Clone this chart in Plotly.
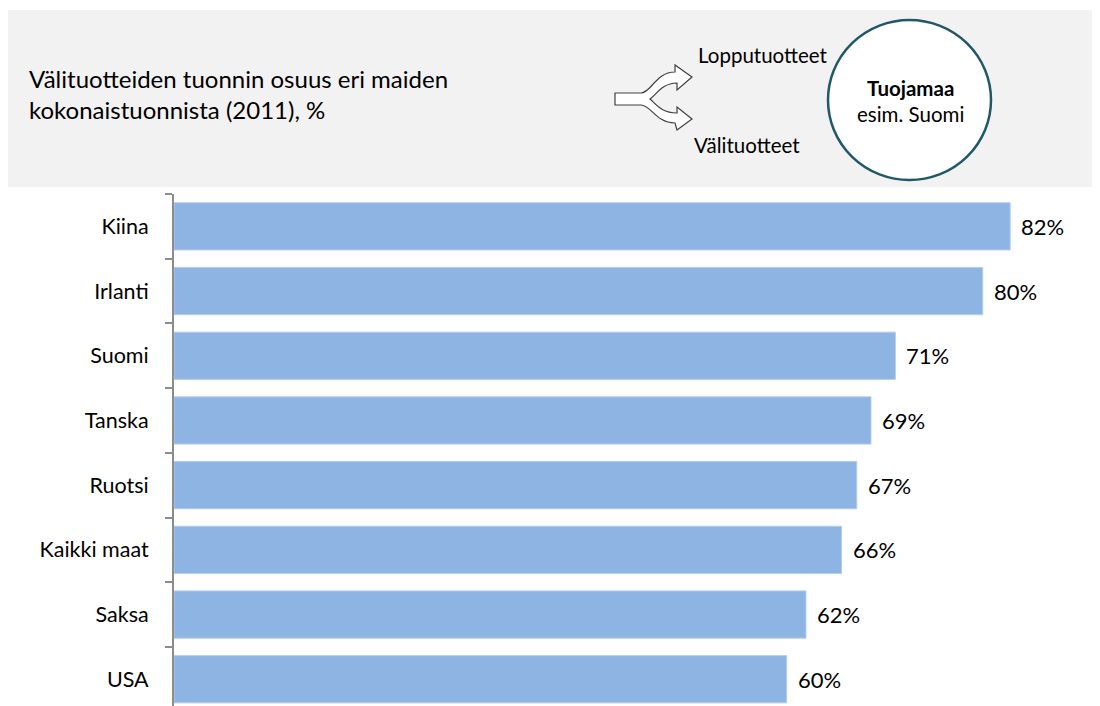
import plotly.graph_objects as go

# Data
countries = ["Kiina", "Irlanti", "Suomi", "Tanska", "Ruotsi", "Kaikki maat", "Saksa", "USA"]
shares = [82.3, 79.6, 71.0, 68.6, 67.2, 65.7, 62.2, 60.3]
title_lines = ["Välituotteiden tuonnin osuus eri maiden", "kokonaistuonnista (2011), %"]

OFF = 8  # page body margin
W, H = 1100 - OFF, 706 - OFF
FONT = "Lato"
BAR = "#8EB4E3"

def px(x):
    return (x - OFF) / W

def py(y):
    return 1 - (y - OFF) / H

# bottom-up order for category axis
cats = countries[::-1]
vals = shares[::-1]
labels = [f"{round(v)}%" for v in vals]

fig = go.Figure()
fig.add_trace(go.Bar(
    y=cats, x=vals, orientation="h",
    marker=dict(color=BAR, line=dict(color="#B4CCEC", width=1)),
    width=0.73,
    hoverinfo="skip",
))

x0 = 174
plot_top = 194
PX_PER_PCT = 10.16
CAT_PX = 64.7
fig.update_layout(
    width=W, height=H,
    margin=dict(l=0, r=0, t=0, b=0),
    paper_bgcolor="white", plot_bgcolor="white",
    showlegend=False,
    font=dict(family=FONT, color="#000000"),
    xaxis=dict(domain=[px(x0), 1], range=[0, (1100 - x0) / PX_PER_PCT],
               showgrid=False, zeroline=False, showline=False,
               showticklabels=False, ticks="", fixedrange=True),
    yaxis=dict(domain=[0, py(plot_top)], type="category",
               categoryorder="array", categoryarray=cats,
               range=[7.5 - (706 - plot_top) / CAT_PX, 7.5],
               showgrid=False, zeroline=False,
               showline=True, linecolor="#8C8C8C", linewidth=2,
               ticks="outside", tickson="boundaries", ticklen=7,
               tickcolor="#8C8C8C", tickwidth=1.5,
               tickfont=dict(size=21.5, color="#000000", family=FONT),
               ticklabelstandoff=19, fixedrange=True),
)

shapes = []
# header background
shapes.append(dict(type="rect", xref="paper", yref="paper",
                   x0=px(8), x1=px(1100), y0=py(187), y1=py(10),
                   fillcolor="#F2F2F2", line=dict(width=0), layer="below"))
# circle
shapes.append(dict(type="circle", xref="paper", yref="paper",
                   x0=px(828), x1=px(991), y0=py(180), y1=py(20),
                   fillcolor="white", line=dict(color="#215868", width=2.5)))

# forked arrow icon
pts = [
    "M", (615, 93), "L", (641, 93),
    "C", (651, 93), (656, 72), (675, 72),
    "L", (675, 65), "L", (692, 77), "L", (677, 90), "L", (677, 83),
    "C", (662, 83), (656, 95), (650, 99),
    "C", (656, 104), (661, 113), (677, 113),
    "L", (677, 107), "L", (692, 119), "L", (677, 130), "L", (675, 123),
    "C", (656, 123), (651, 105), (641, 105),
    "L", (615, 105), "Z",
]
path = []
for p in pts:
    if isinstance(p, str):
        path.append(p)
    else:
        path.append(f"{px(p[0]):.5f},{py(p[1]):.5f}")
shapes.append(dict(type="path", xref="paper", yref="paper", path=" ".join(path),
                   fillcolor="white", line=dict(color="#404040", width=1.2)))
fig.update_layout(shapes=shapes)

ann = []
# value labels next to bars
for c, v, t in zip(cats, vals, labels):
    ann.append(dict(xref="x", yref="y", x=v, y=c, xanchor="left", yanchor="middle",
                    xshift=9, text=t, showarrow=False,
                    font=dict(size=22, color="#000000", family=FONT)))
ann.append(dict(xref="paper", yref="paper", x=px(27), y=py(94), xanchor="left", yanchor="middle",
                text="<br>".join(title_lines), align="left", showarrow=False,
                font=dict(size=24, color="#000000", family=FONT)))
ann.append(dict(xref="paper", yref="paper", x=px(696), y=py(55), xanchor="left", yanchor="middle",
                text="Lopputuotteet", showarrow=False,
                font=dict(size=20.5, color="#000000", family=FONT)))
ann.append(dict(xref="paper", yref="paper", x=px(692), y=py(145), xanchor="left", yanchor="middle",
                text="Välituotteet", showarrow=False,
                font=dict(size=20.5, color="#000000", family=FONT)))
ann.append(dict(xref="paper", yref="paper", x=px(910), y=py(88), xanchor="center", yanchor="middle",
                text="<b>Tuojamaa</b>", showarrow=False,
                font=dict(size=20.5, color="#000000", family=FONT)))
ann.append(dict(xref="paper", yref="paper", x=px(910), y=py(114), xanchor="center", yanchor="middle",
                text="esim. Suomi", showarrow=False,
                font=dict(size=20.5, color="#000000", family=FONT)))
fig.update_layout(annotations=ann)

fig.write_html("out.html")
